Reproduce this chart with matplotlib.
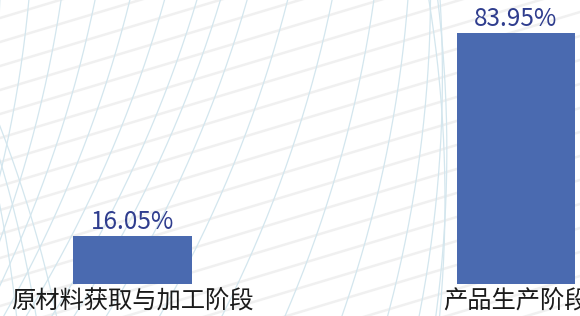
#! /usr/bin/env python3

import numpy as np
import matplotlib
matplotlib.use("Agg")
import matplotlib.pyplot as plt

plt.rcParams['font.family'] = ['Noto Sans CJK SC', 'DejaVu Sans']

# Share of emissions by life-cycle stage (%)
stages = ["原材料获取与加工阶段", "产品生产阶段"]
shares = [16.05, 83.95]

bar_color = "#4A6AB0"
value_color = "#2F3D8E"

W, H = 580, 316
fig = plt.figure(figsize=(W / 100, H / 100), dpi=100)

# decorative background, in pixel coordinates
bg = fig.add_axes([0, 0, 1, 1], zorder=0)
bg.set_xlim(0, W)
bg.set_ylim(H, 0)
bg.axis("off")

# faint grey diagonal strokes
xs = np.array([-50.0, W + 50.0])
for c in np.arange(-30, 560, 24):
    bg.plot(xs, c - 0.30 * xs, color="#F0F0F0", lw=1.8, zorder=0)

# thin blue arcs: big circles whose rightmost points run along a loop
r = 1250
phi = np.linspace(-0.7, 0.7, 600)
for psi in np.deg2rad(np.arange(0, 251, 10)):
    u = np.sign(np.cos(psi)) * abs(np.cos(psi)) ** 1.333
    v = np.sign(np.sin(psi)) * abs(np.sin(psi)) ** 1.333
    rx = 205 + 240 * u + 69 * v
    ry = 135 + 65 * u - 497 * v
    bg.plot(rx - r + r * np.cos(phi), ry + r * np.sin(phi),
            color="#D3E6EE", lw=0.9, zorder=1)

# main bar chart
ax = fig.add_axes([0, 32 / H, 1, 1 - 32 / H], zorder=2)
ax.patch.set_alpha(0)
x = np.arange(len(stages))
ax.bar(x, shares, width=0.31, color=bar_color)
ax.set_xlim(-0.3455, 1.167)
ax.set_ylim(0, 95)
for xi, v in zip(x, shares):
    ax.annotate(f"{v:.2f}%", (xi, v), xytext=(0, 1), textcoords="offset points",
                ha="center", va="bottom", fontsize=17.5, color=value_color)
ax.set_xticks(x)
ax.set_xticklabels(stages, fontsize=17.5, color="#1A1A1A")
ax.tick_params(axis="x", length=0, pad=3)
ax.set_yticks([])
for s in ax.spines.values():
    s.set_visible(False)

fig.savefig("out.png", dpi=100)
